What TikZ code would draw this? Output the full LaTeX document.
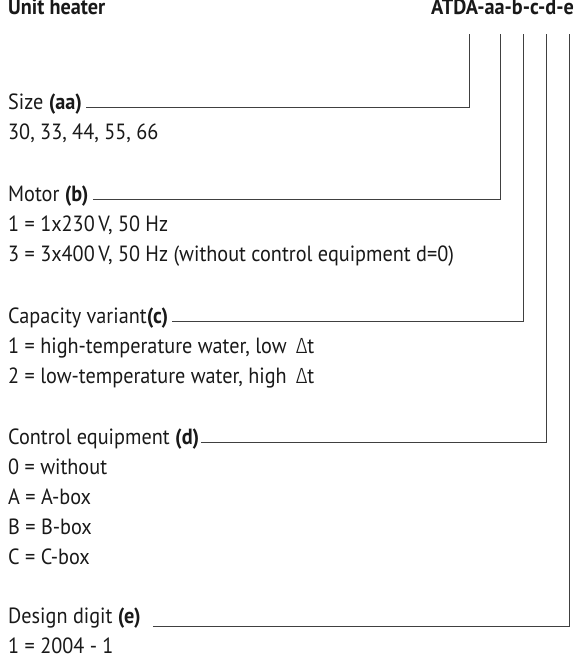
\documentclass[tikz,border=0pt]{standalone}
\usepackage{fontspec}
\setmainfont{PT Sans}[FakeStretch=0.92]
\newfontfamily\grk{Fira Sans Light}[FakeStretch=0.92]
\begin{document}
\begin{tikzpicture}[x=1pt,y=-1pt,
  txt/.style={inner sep=0pt, anchor=west, text height=0.72em, text depth=0.22em,
    font=\fontsize{22}{25}\selectfont, text=black!90},
  conn/.style={draw=black!75, line width=0.95pt}]
\useasboundingbox (0,0) rectangle (578,669);
% header
\node[txt] (title) at (8,12) {\bfseries Unit heater};
\node[txt, anchor=east] (code) at (574,12) {\bfseries ATDA-aa-b-c-d-e};
% tops of the connectors
\coordinate (ta) at (469,34);
\coordinate (tb) at (500,34);
\coordinate (tc) at (523,34);
\coordinate (td) at (546,34);
\coordinate (te) at (569,34);
% size
\node[txt] (sz) at (8,107) {Size \textbf{(aa)}};
\node[txt] (sz1) at (8,137) {30, 33, 44, 55, 66};
% motor
\node[txt] (mo) at (8,199) {Motor \textbf{(b)}};
\node[txt] (mo1) at (8,229) {1 = 1x230\,V, 50 Hz};
\node[txt] (mo2) at (8,259) {3 = 3x400\,V, 50 Hz (without control equipment d=0)};
% capacity
\node[txt] (ca) at (8,321) {Capacity variant\textbf{(c)}};
\node[txt] (ca1) at (8,351) {1 = high-temperature water, low \,{\grk Δ}t};
\node[txt] (ca2) at (8,381) {2 = low-temperature water, high \,{\grk Δ}t};
% control
\node[txt] (ce) at (8,442) {Control equipment \textbf{(d)}};
\node[txt] (ce1) at (8,472) {0 = without};
\node[txt] (ce2) at (8,502) {A = A-box};
\node[txt] (ce3) at (8,532) {B = B-box};
\node[txt] (ce4) at (8,562) {C = C-box};
% design
\node[txt] (de) at (8,621) {Design digit \textbf{(e)}};
\node[txt] (de1) at (8,651) {1 = 2004 - 1};
% start points of the connectors
\coordinate (sa) at ([xshift=4pt]sz.east);
\coordinate (sb) at ([xshift=4pt]mo.east);
\coordinate (sc) at ([xshift=4pt]ca.east);
\coordinate (sd) at ([xshift=2pt]ce.east);
\coordinate (se) at ([xshift=12pt,yshift=-5pt]de.east);
% connectors
\draw[conn] (sa) -- (sa -| ta) -- (ta);
\draw[conn] (sb) -- (sb -| tb) -- (tb);
\draw[conn] (sc) -- (sc -| tc) -- (tc);
\draw[conn] (sd) -- (sd -| td) -- (td);
\draw[conn] (se) -- (se -| te) -- (te);
\end{tikzpicture}
\end{document}
